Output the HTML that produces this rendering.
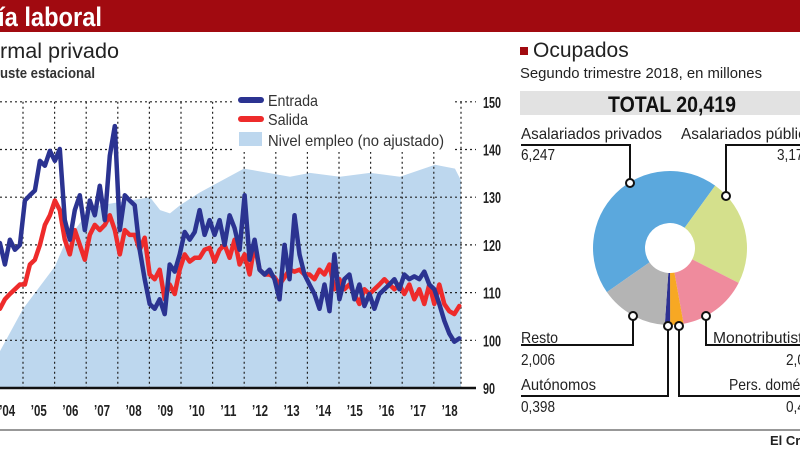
<!DOCTYPE html>
<html><head><meta charset="utf-8"><style>
html,body{margin:0;padding:0;background:#fff;}
svg{display:block;font-family:"Liberation Sans",sans-serif;}
</style></head><body>
<svg id="root" width="800" height="450" viewBox="0 0 800 450">
<rect x="0" y="0" width="800" height="32" fill="#a10a10"/>
<text x="-2" y="26" font-size="27" font-weight="bold" fill="#fff" textLength="104" lengthAdjust="spacingAndGlyphs">ía laboral</text>
<text x="0" y="58" font-size="21" fill="#222" textLength="119" lengthAdjust="spacingAndGlyphs">rmal privado</text>
<text x="0" y="78" font-size="15" font-weight="bold" fill="#333" textLength="95" lengthAdjust="spacingAndGlyphs">uste estacional</text>
<g id="linechart"></g>
<g id="donut"></g>
<line x1="0" y1="430" x2="800" y2="430" stroke="#777" stroke-width="1.5"/>
<text x="770" y="445" font-size="13" font-weight="bold" fill="#222">El Cronista</text>
</svg>
<script>
const years=['’04','’05','’06','’07','’08','’09','’10','’11','’12','’13','’14','’15','’16','’17','’18'];
const yTicks=[90,100,110,120,130,140,150];
const lineStart=2004.27, lineStep=0.158;
const entrada=[120.4,115.9,121.1,119.0,120.0,129.3,130.4,131.4,137.6,136.6,139.7,137.6,140.1,125.2,121.1,127.3,130.4,123.1,129.3,126.2,132.4,125.2,138.7,144.9,123.1,130.4,129.3,128.3,119.0,112.8,107.6,106.6,108.6,105.5,115.9,114.4,118.0,122.7,121.1,122.7,127.3,122.1,125.2,122.1,125.2,120.0,126.2,123.5,119.0,130.4,116.9,121.1,114.8,113.8,114.8,112.8,108.6,120.0,112.8,126.2,118.0,113.8,111.7,109.7,106.6,111.7,106.1,118.0,108.6,112.8,113.8,108.6,111.7,107.2,109.7,106.6,109.7,110.7,111.7,112.8,110.7,113.8,112.8,113.4,112.8,114.4,111.7,110.7,107.6,104.1,101.4,99.7,100.4];
const salida=[106.6,108.6,109.7,110.7,111.7,111.7,115.9,116.9,120.0,124.2,126.2,129.3,127.3,121.1,118.0,123.1,120.0,116.9,122.1,124.2,123.1,124.2,126.2,123.1,118.0,123.1,122.1,122.1,119.0,121.5,113.8,112.8,114.8,108.6,111.7,109.7,114.8,118.0,116.5,117.3,117.3,119.0,119.4,116.5,119.0,120.0,117.3,121.1,115.9,118.0,113.8,120.0,114.8,113.8,113.8,113.2,111.7,113.2,114.8,114.4,114.8,113.8,113.8,112.8,114.8,113.8,115.9,110.7,112.8,110.7,111.7,109.7,107.6,110.7,109.7,110.7,111.7,112.8,111.7,110.7,111.7,109.7,111.7,108.6,110.7,107.6,111.7,107.6,111.7,107.6,106.1,105.5,107.2];
const areaDates=[2004.27,2005.0,2006.01,2006.33,2007.03,2007.44,2009.02,2009.34,2009.65,2009.97,2010.6,2011.99,2013.45,2014.08,2015.03,2015.98,2016.93,2018.04,2018.67,2018.86];
const areaVals=[97.7,106.6,115.5,120.4,126.6,128.3,130,127.3,126.6,128.3,131,136,134.3,135.1,134.3,135.1,134.3,136.8,136,133.5];
const sliceNames=['Asalariados privados','Asalariados públicos','Monotributistas','Pers. doméstico','Autónomos','Resto'];
const sliceShares=[44.7,22.5,14.7,2.8,1.1,14.2];
const sliceColors=['#5ba8dd','#d4e08c','#ef8b9d','#f7a823','#2e3192','#b4b4b4'];

const NS='http://www.w3.org/2000/svg';
function mk(tag,attrs,parent){const e=document.createElementNS(NS,tag);for(const k in attrs)e.setAttribute(k,attrs[k]);parent.appendChild(e);return e;}
const X=t=>23+(t-2005)*31.6;
const Y=v=>388-(v-90)*4.77;
const lc=document.getElementById('linechart');
let d='M'+X(areaDates[0])+','+Y(90);
areaDates.forEach((t,i)=>{d+=' L'+X(t)+','+Y(areaVals[i]);});
d+=' L'+X(areaDates[areaDates.length-1])+','+Y(90)+' Z';
const area=mk('path',{d:d,fill:'#bdd7ee'},lc);


yTicks.forEach(v=>{
  if(v>90){const g=mk('line',{x1:0,y1:Y(v),x2:476,y2:Y(v),stroke:'#222','stroke-width':1.2,'stroke-dasharray':'2,3'},lc);
  
  }
  const t=mk('text',{x:483,y:Y(v)+6,'font-size':16,'font-weight':'bold',fill:'#222',textLength:String(v).length*6,lengthAdjust:'spacingAndGlyphs'},lc);
  t.textContent=v;
  
  
});
for(let i=0;i<=14;i++){
  const x=i<14?X(2005+i):461;
  const g=mk('line',{x1:x,y1:Y(150),x2:x,y2:Y(90),stroke:'#222','stroke-width':1.2,'stroke-dasharray':'2,3'},lc);
  
  
}
years.forEach((y,i)=>{
  const t=mk('text',{x:X(2004+i)+15.8,y:416,'font-size':16,'font-weight':'bold',fill:'#222','text-anchor':'middle',textLength:16,lengthAdjust:'spacingAndGlyphs'},lc);
  t.textContent=y;
  
  
});
function series(vals,color,name){
  const p=vals.map((v,i)=>(i?'L':'M')+X(lineStart+i*lineStep).toFixed(1)+','+Y(v).toFixed(1)).join(' ');
  const l=mk('path',{d:p,fill:'none',stroke:color,'stroke-width':4.5,'stroke-linejoin':'round','stroke-linecap':'round'},lc);
  
  
}
series(salida,'#ee2b2b','salida-line');
series(entrada,'#2b3391','entrada-line');
const ax=mk('line',{x1:0,y1:Y(90),x2:476,y2:Y(90),stroke:'#111','stroke-width':2.5},lc);


const lg=mk('g',{},lc);


mk('rect',{x:232,y:88,width:222,height:64,fill:'#fff'},lg);
[['Entrada','#2b3391',106,50],['Salida','#ee2b2b',125,40]].forEach(([n,c,y,w])=>{
  mk('line',{x1:241,y1:y-6,x2:261,y2:y-6,stroke:c,'stroke-width':6,'stroke-linecap':'round'},lg);
  const t=mk('text',{x:268,y:y,'font-size':16,fill:'#333',textLength:w,lengthAdjust:'spacingAndGlyphs'},lg);t.textContent=n;
  
  
});
mk('rect',{x:239,y:132,width:23,height:14,fill:'#bdd7ee'},lg);
const tn=mk('text',{x:268,y:146,'font-size':16,fill:'#333',textLength:176,lengthAdjust:'spacingAndGlyphs'},lg);tn.textContent='Nivel empleo (no ajustado)';



const dn=document.getElementById('donut');
mk('rect',{x:520,y:47,width:8,height:8,fill:'#a10a10'},dn);
let t=mk('text',{x:533,y:57,'font-size':21,fill:'#222'},dn);t.textContent='Ocupados';

t=mk('text',{x:520,y:78,'font-size':15,fill:'#222',textLength:242,lengthAdjust:'spacingAndGlyphs'},dn);t.textContent='Segundo trimestre 2018, en millones';

mk('rect',{x:520,y:91,width:280,height:24,fill:'#e2e2e2'},dn);
t=mk('text',{x:608,y:112,'font-size':22,'font-weight':'bold',fill:'#111',textLength:128,lengthAdjust:'spacingAndGlyphs'},dn);t.textContent='TOTAL 20,419';

const cx=670,cy=248,R=77,r=25;
const tot=sliceShares.reduce((a,b)=>a+b,0);
let ang=235;
function pt(a,rad){const q=(a-90)*Math.PI/180;return [cx+rad*Math.cos(q),cy+rad*Math.sin(q)];}
sliceShares.forEach((s,i)=>{
  const a0=ang,a1=ang+s/tot*360;ang=a1;
  const large=(a1-a0)>180?1:0;
  const [x0,y0]=pt(a0,R),[x1,y1]=pt(a1,R),[x2,y2]=pt(a1,r),[x3,y3]=pt(a0,r);
  const p=mk('path',{d:`M${x0},${y0} A${R},${R} 0 ${large} 1 ${x1},${y1} L${x2},${y2} A${r},${r} 0 ${large} 0 ${x3},${y3} Z`,fill:sliceColors[i]},dn);
  
  
});
const labels=[
 ['Asalariados privados','6,247',521,139,160,'M521,145 H630 V183',630,183,141,521],
 ['Asalariados públicos','3,175',681,139,160,'M800,145 H726 V196',726,196,141,777],
 ['Resto','2,006',521,343,365,'M521,345 H633 V316',633,316,37,521],
 ['Monotributistas','2,006',713,343,365,'M800,345 H706 V316',706,316,106,786],
 ['Autónomos','0,398',521,390,412,'M521,396 H668 V326',668,326,75,521],
 ['Pers. doméstico','0,412',729,390,412,'M800,396 H679 V326',679,326,100,786]
];
labels.forEach(L=>{
  const g=mk('g',{},dn);
  
  
  mk('path',{d:L[5],fill:'none',stroke:'#111','stroke-width':2},g);
  mk('circle',{cx:L[6],cy:L[7],r:4,fill:'#fff',stroke:'#111','stroke-width':2},g);
  let a=mk('text',{x:L[2],y:L[3],'font-size':16,fill:'#222',textLength:L[8],lengthAdjust:'spacingAndGlyphs'},g);a.textContent=L[0];
  let b=mk('text',{x:L[9],y:L[4],'font-size':16,fill:'#222',textLength:34,lengthAdjust:'spacingAndGlyphs'},g);b.textContent=L[1];
});
</script>
</body></html>
